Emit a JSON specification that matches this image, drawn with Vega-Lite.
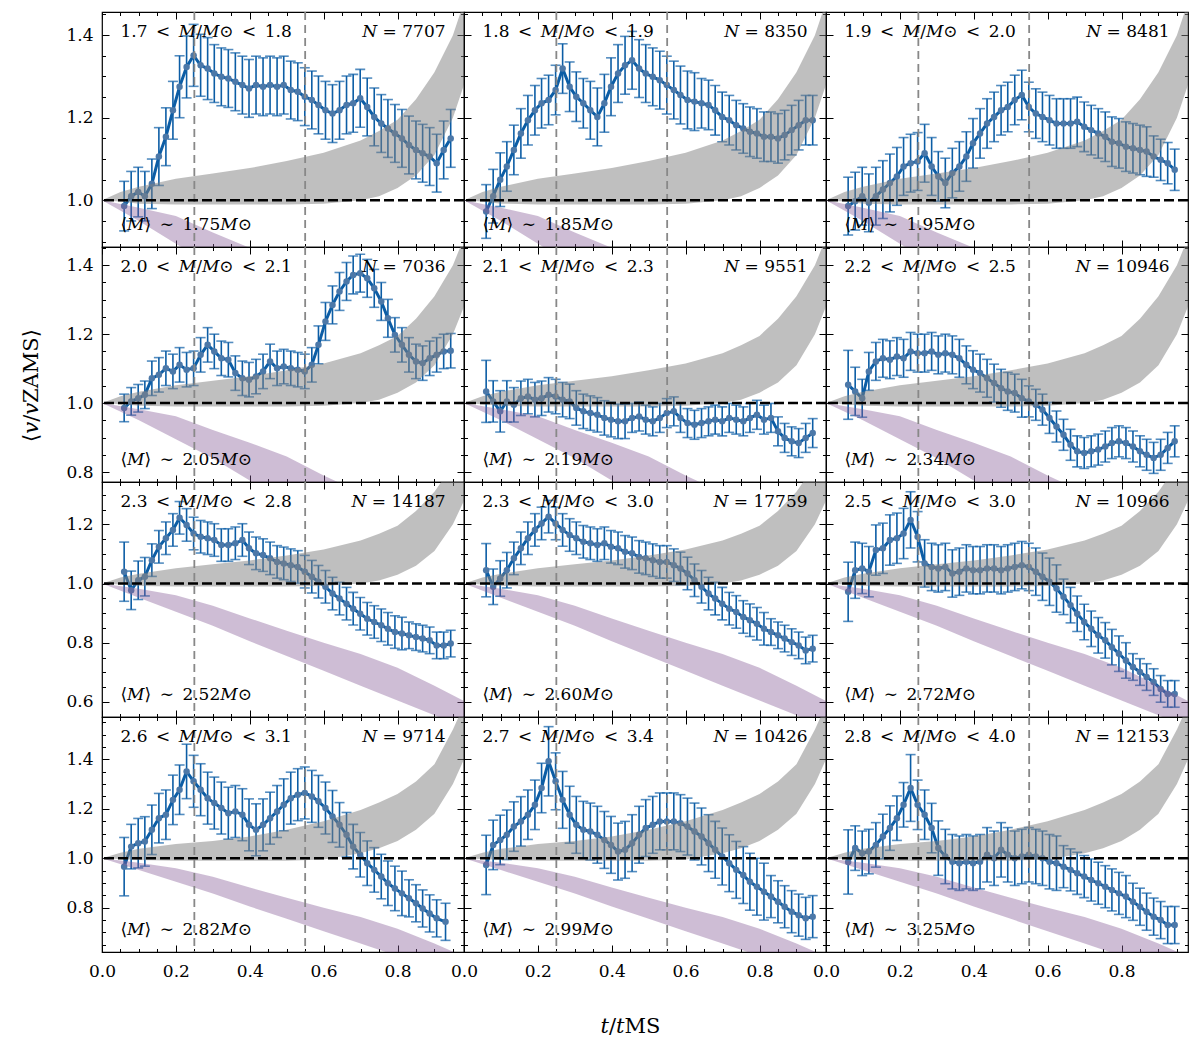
{
"$schema": "https://vega.github.io/schema/vega-lite/v6.json",
"background": "white",
"padding": {"left": 20, "top": 10, "right": 5, "bottom": 5},
"columns": 3,
"spacing": 0,
"bounds": "flush",
"datasets": {
"obs": [
{"p":1,"t":0.06,"v":0.986,"e":0.06},{"p":1,"t":0.079,"v":1.01,"e":0.06},{"p":1,"t":0.098,"v":1.02,"e":0.06},{"p":1,"t":0.116,"v":1.01,"e":0.06},{"p":1,"t":0.135,"v":1.04,"e":0.06},{"p":1,"t":0.154,"v":1.106,"e":0.07},{"p":1,"t":0.173,"v":1.154,"e":0.07},{"p":1,"t":0.192,"v":1.218,"e":0.07},{"p":1,"t":0.21,"v":1.275,"e":0.075},{"p":1,"t":0.229,"v":1.323,"e":0.075},{"p":1,"t":0.248,"v":1.351,"e":0.075},{"p":1,"t":0.267,"v":1.327,"e":0.075},{"p":1,"t":0.286,"v":1.319,"e":0.075},{"p":1,"t":0.304,"v":1.307,"e":0.07},{"p":1,"t":0.323,"v":1.299,"e":0.07},{"p":1,"t":0.342,"v":1.295,"e":0.07},{"p":1,"t":0.361,"v":1.287,"e":0.07},{"p":1,"t":0.38,"v":1.279,"e":0.07},{"p":1,"t":0.398,"v":1.271,"e":0.07},{"p":1,"t":0.417,"v":1.279,"e":0.07},{"p":1,"t":0.436,"v":1.275,"e":0.07},{"p":1,"t":0.455,"v":1.279,"e":0.07},{"p":1,"t":0.474,"v":1.275,"e":0.07},{"p":1,"t":0.492,"v":1.279,"e":0.07},{"p":1,"t":0.511,"v":1.267,"e":0.07},{"p":1,"t":0.53,"v":1.263,"e":0.07},{"p":1,"t":0.549,"v":1.251,"e":0.07},{"p":1,"t":0.568,"v":1.243,"e":0.07},{"p":1,"t":0.586,"v":1.231,"e":0.07},{"p":1,"t":0.605,"v":1.218,"e":0.07},{"p":1,"t":0.624,"v":1.21,"e":0.07},{"p":1,"t":0.643,"v":1.218,"e":0.07},{"p":1,"t":0.662,"v":1.231,"e":0.07},{"p":1,"t":0.68,"v":1.235,"e":0.07},{"p":1,"t":0.699,"v":1.247,"e":0.07},{"p":1,"t":0.718,"v":1.226,"e":0.07},{"p":1,"t":0.737,"v":1.202,"e":0.07},{"p":1,"t":0.756,"v":1.186,"e":0.07},{"p":1,"t":0.774,"v":1.174,"e":0.07},{"p":1,"t":0.793,"v":1.162,"e":0.07},{"p":1,"t":0.812,"v":1.15,"e":0.07},{"p":1,"t":0.831,"v":1.134,"e":0.07},{"p":1,"t":0.85,"v":1.122,"e":0.07},{"p":1,"t":0.868,"v":1.114,"e":0.07},{"p":1,"t":0.887,"v":1.106,"e":0.07},{"p":1,"t":0.906,"v":1.09,"e":0.07},{"p":1,"t":0.925,"v":1.122,"e":0.07},{"p":1,"t":0.944,"v":1.15,"e":0.07},
{"p":2,"t":0.06,"v":0.973,"e":0.065},{"p":2,"t":0.079,"v":1.01,"e":0.065},{"p":2,"t":0.098,"v":1.05,"e":0.065},{"p":2,"t":0.116,"v":1.082,"e":0.06},{"p":2,"t":0.135,"v":1.122,"e":0.06},{"p":2,"t":0.154,"v":1.162,"e":0.06},{"p":2,"t":0.173,"v":1.194,"e":0.06},{"p":2,"t":0.192,"v":1.218,"e":0.06},{"p":2,"t":0.21,"v":1.235,"e":0.06},{"p":2,"t":0.229,"v":1.243,"e":0.06},{"p":2,"t":0.248,"v":1.267,"e":0.06},{"p":2,"t":0.267,"v":1.319,"e":0.06},{"p":2,"t":0.286,"v":1.275,"e":0.06},{"p":2,"t":0.304,"v":1.251,"e":0.06},{"p":2,"t":0.323,"v":1.235,"e":0.06},{"p":2,"t":0.342,"v":1.218,"e":0.07},{"p":2,"t":0.361,"v":1.202,"e":0.07},{"p":2,"t":0.38,"v":1.235,"e":0.07},{"p":2,"t":0.398,"v":1.275,"e":0.07},{"p":2,"t":0.417,"v":1.307,"e":0.07},{"p":2,"t":0.436,"v":1.327,"e":0.07},{"p":2,"t":0.455,"v":1.339,"e":0.07},{"p":2,"t":0.474,"v":1.319,"e":0.07},{"p":2,"t":0.492,"v":1.307,"e":0.07},{"p":2,"t":0.511,"v":1.299,"e":0.07},{"p":2,"t":0.53,"v":1.291,"e":0.07},{"p":2,"t":0.549,"v":1.279,"e":0.07},{"p":2,"t":0.568,"v":1.267,"e":0.07},{"p":2,"t":0.586,"v":1.255,"e":0.07},{"p":2,"t":0.605,"v":1.243,"e":0.07},{"p":2,"t":0.624,"v":1.239,"e":0.07},{"p":2,"t":0.643,"v":1.235,"e":0.06},{"p":2,"t":0.662,"v":1.231,"e":0.06},{"p":2,"t":0.68,"v":1.218,"e":0.06},{"p":2,"t":0.699,"v":1.202,"e":0.06},{"p":2,"t":0.718,"v":1.194,"e":0.06},{"p":2,"t":0.737,"v":1.182,"e":0.06},{"p":2,"t":0.756,"v":1.174,"e":0.06},{"p":2,"t":0.774,"v":1.166,"e":0.06},{"p":2,"t":0.793,"v":1.162,"e":0.06},{"p":2,"t":0.812,"v":1.154,"e":0.06},{"p":2,"t":0.831,"v":1.154,"e":0.06},{"p":2,"t":0.85,"v":1.15,"e":0.06},{"p":2,"t":0.868,"v":1.158,"e":0.06},{"p":2,"t":0.887,"v":1.17,"e":0.06},{"p":2,"t":0.906,"v":1.182,"e":0.06},{"p":2,"t":0.925,"v":1.194,"e":0.06},{"p":2,"t":0.944,"v":1.194,"e":0.06},
{"p":3,"t":0.06,"v":0.986,"e":0.07},{"p":3,"t":0.079,"v":0.998,"e":0.07},{"p":3,"t":0.098,"v":1.01,"e":0.07},{"p":3,"t":0.116,"v":0.994,"e":0.07},{"p":3,"t":0.135,"v":1.01,"e":0.07},{"p":3,"t":0.154,"v":1.026,"e":0.07},{"p":3,"t":0.173,"v":1.042,"e":0.07},{"p":3,"t":0.192,"v":1.058,"e":0.07},{"p":3,"t":0.21,"v":1.082,"e":0.07},{"p":3,"t":0.229,"v":1.09,"e":0.07},{"p":3,"t":0.248,"v":1.094,"e":0.07},{"p":3,"t":0.267,"v":1.114,"e":0.07},{"p":3,"t":0.286,"v":1.082,"e":0.07},{"p":3,"t":0.304,"v":1.058,"e":0.06},{"p":3,"t":0.323,"v":1.042,"e":0.06},{"p":3,"t":0.342,"v":1.066,"e":0.06},{"p":3,"t":0.361,"v":1.082,"e":0.06},{"p":3,"t":0.38,"v":1.106,"e":0.06},{"p":3,"t":0.398,"v":1.138,"e":0.06},{"p":3,"t":0.417,"v":1.162,"e":0.06},{"p":3,"t":0.436,"v":1.186,"e":0.06},{"p":3,"t":0.455,"v":1.202,"e":0.06},{"p":3,"t":0.474,"v":1.218,"e":0.06},{"p":3,"t":0.492,"v":1.226,"e":0.06},{"p":3,"t":0.511,"v":1.243,"e":0.06},{"p":3,"t":0.53,"v":1.255,"e":0.06},{"p":3,"t":0.549,"v":1.226,"e":0.06},{"p":3,"t":0.568,"v":1.21,"e":0.06},{"p":3,"t":0.586,"v":1.202,"e":0.06},{"p":3,"t":0.605,"v":1.194,"e":0.06},{"p":3,"t":0.624,"v":1.186,"e":0.06},{"p":3,"t":0.643,"v":1.186,"e":0.06},{"p":3,"t":0.662,"v":1.186,"e":0.06},{"p":3,"t":0.68,"v":1.19,"e":0.06},{"p":3,"t":0.699,"v":1.178,"e":0.06},{"p":3,"t":0.718,"v":1.17,"e":0.06},{"p":3,"t":0.737,"v":1.162,"e":0.06},{"p":3,"t":0.756,"v":1.154,"e":0.06},{"p":3,"t":0.774,"v":1.142,"e":0.06},{"p":3,"t":0.793,"v":1.138,"e":0.06},{"p":3,"t":0.812,"v":1.13,"e":0.06},{"p":3,"t":0.831,"v":1.126,"e":0.06},{"p":3,"t":0.85,"v":1.122,"e":0.06},{"p":3,"t":0.868,"v":1.118,"e":0.06},{"p":3,"t":0.887,"v":1.106,"e":0.05},{"p":3,"t":0.906,"v":1.098,"e":0.05},{"p":3,"t":0.925,"v":1.09,"e":0.05},{"p":3,"t":0.944,"v":1.074,"e":0.05},
{"p":4,"t":0.06,"v":0.986,"e":0.04},{"p":4,"t":0.079,"v":1.005,"e":0.04},{"p":4,"t":0.098,"v":1.014,"e":0.04},{"p":4,"t":0.116,"v":1.024,"e":0.04},{"p":4,"t":0.135,"v":1.072,"e":0.05},{"p":4,"t":0.154,"v":1.082,"e":0.05},{"p":4,"t":0.173,"v":1.101,"e":0.05},{"p":4,"t":0.192,"v":1.092,"e":0.05},{"p":4,"t":0.21,"v":1.111,"e":0.05},{"p":4,"t":0.229,"v":1.097,"e":0.05},{"p":4,"t":0.248,"v":1.101,"e":0.05},{"p":4,"t":0.267,"v":1.14,"e":0.05},{"p":4,"t":0.286,"v":1.169,"e":0.05},{"p":4,"t":0.304,"v":1.15,"e":0.05},{"p":4,"t":0.323,"v":1.13,"e":0.05},{"p":4,"t":0.342,"v":1.126,"e":0.05},{"p":4,"t":0.361,"v":1.087,"e":0.05},{"p":4,"t":0.38,"v":1.072,"e":0.05},{"p":4,"t":0.398,"v":1.068,"e":0.05},{"p":4,"t":0.417,"v":1.077,"e":0.05},{"p":4,"t":0.436,"v":1.092,"e":0.05},{"p":4,"t":0.455,"v":1.121,"e":0.05},{"p":4,"t":0.474,"v":1.101,"e":0.05},{"p":4,"t":0.492,"v":1.106,"e":0.05},{"p":4,"t":0.511,"v":1.101,"e":0.05},{"p":4,"t":0.53,"v":1.097,"e":0.05},{"p":4,"t":0.549,"v":1.092,"e":0.05},{"p":4,"t":0.568,"v":1.111,"e":0.05},{"p":4,"t":0.586,"v":1.169,"e":0.055},{"p":4,"t":0.605,"v":1.237,"e":0.055},{"p":4,"t":0.624,"v":1.285,"e":0.055},{"p":4,"t":0.643,"v":1.324,"e":0.055},{"p":4,"t":0.662,"v":1.353,"e":0.055},{"p":4,"t":0.68,"v":1.372,"e":0.055},{"p":4,"t":0.699,"v":1.377,"e":0.055},{"p":4,"t":0.718,"v":1.362,"e":0.055},{"p":4,"t":0.737,"v":1.333,"e":0.055},{"p":4,"t":0.756,"v":1.295,"e":0.055},{"p":4,"t":0.774,"v":1.246,"e":0.055},{"p":4,"t":0.793,"v":1.198,"e":0.05},{"p":4,"t":0.812,"v":1.169,"e":0.05},{"p":4,"t":0.831,"v":1.14,"e":0.05},{"p":4,"t":0.85,"v":1.121,"e":0.05},{"p":4,"t":0.868,"v":1.116,"e":0.05},{"p":4,"t":0.887,"v":1.13,"e":0.05},{"p":4,"t":0.906,"v":1.14,"e":0.05},{"p":4,"t":0.925,"v":1.15,"e":0.05},{"p":4,"t":0.944,"v":1.152,"e":0.05},
{"p":5,"t":0.06,"v":1.034,"e":0.09},{"p":5,"t":0.079,"v":1.005,"e":0.06},{"p":5,"t":0.098,"v":0.976,"e":0.06},{"p":5,"t":0.116,"v":1.005,"e":0.06},{"p":5,"t":0.135,"v":0.995,"e":0.05},{"p":5,"t":0.154,"v":1.014,"e":0.05},{"p":5,"t":0.173,"v":1.019,"e":0.05},{"p":5,"t":0.192,"v":1.01,"e":0.05},{"p":5,"t":0.21,"v":1.014,"e":0.05},{"p":5,"t":0.229,"v":1.024,"e":0.05},{"p":5,"t":0.248,"v":1.019,"e":0.05},{"p":5,"t":0.267,"v":1.01,"e":0.05},{"p":5,"t":0.286,"v":1.005,"e":0.05},{"p":5,"t":0.304,"v":0.986,"e":0.05},{"p":5,"t":0.323,"v":0.976,"e":0.05},{"p":5,"t":0.342,"v":0.971,"e":0.05},{"p":5,"t":0.361,"v":0.966,"e":0.05},{"p":5,"t":0.38,"v":0.957,"e":0.05},{"p":5,"t":0.398,"v":0.952,"e":0.05},{"p":5,"t":0.417,"v":0.947,"e":0.05},{"p":5,"t":0.436,"v":0.947,"e":0.05},{"p":5,"t":0.455,"v":0.957,"e":0.042},{"p":5,"t":0.474,"v":0.961,"e":0.042},{"p":5,"t":0.492,"v":0.952,"e":0.042},{"p":5,"t":0.511,"v":0.947,"e":0.042},{"p":5,"t":0.53,"v":0.957,"e":0.042},{"p":5,"t":0.549,"v":0.971,"e":0.042},{"p":5,"t":0.568,"v":0.976,"e":0.042},{"p":5,"t":0.586,"v":0.957,"e":0.042},{"p":5,"t":0.605,"v":0.942,"e":0.042},{"p":5,"t":0.624,"v":0.937,"e":0.042},{"p":5,"t":0.643,"v":0.942,"e":0.042},{"p":5,"t":0.662,"v":0.947,"e":0.042},{"p":5,"t":0.68,"v":0.952,"e":0.042},{"p":5,"t":0.699,"v":0.947,"e":0.042},{"p":5,"t":0.718,"v":0.957,"e":0.042},{"p":5,"t":0.737,"v":0.952,"e":0.042},{"p":5,"t":0.756,"v":0.947,"e":0.042},{"p":5,"t":0.774,"v":0.957,"e":0.042},{"p":5,"t":0.793,"v":0.966,"e":0.042},{"p":5,"t":0.812,"v":0.952,"e":0.042},{"p":5,"t":0.831,"v":0.957,"e":0.042},{"p":5,"t":0.85,"v":0.918,"e":0.042},{"p":5,"t":0.868,"v":0.899,"e":0.042},{"p":5,"t":0.887,"v":0.889,"e":0.042},{"p":5,"t":0.906,"v":0.884,"e":0.042},{"p":5,"t":0.925,"v":0.899,"e":0.042},{"p":5,"t":0.944,"v":0.913,"e":0.042},
{"p":6,"t":0.06,"v":1.053,"e":0.1},{"p":6,"t":0.079,"v":1.034,"e":0.07},{"p":6,"t":0.098,"v":1.014,"e":0.055},{"p":6,"t":0.116,"v":1.092,"e":0.055},{"p":6,"t":0.135,"v":1.121,"e":0.055},{"p":6,"t":0.154,"v":1.13,"e":0.055},{"p":6,"t":0.173,"v":1.126,"e":0.055},{"p":6,"t":0.192,"v":1.135,"e":0.055},{"p":6,"t":0.21,"v":1.13,"e":0.055},{"p":6,"t":0.229,"v":1.15,"e":0.055},{"p":6,"t":0.248,"v":1.145,"e":0.055},{"p":6,"t":0.267,"v":1.145,"e":0.055},{"p":6,"t":0.286,"v":1.15,"e":0.055},{"p":6,"t":0.304,"v":1.14,"e":0.055},{"p":6,"t":0.323,"v":1.145,"e":0.055},{"p":6,"t":0.342,"v":1.14,"e":0.055},{"p":6,"t":0.361,"v":1.13,"e":0.055},{"p":6,"t":0.38,"v":1.111,"e":0.055},{"p":6,"t":0.398,"v":1.097,"e":0.055},{"p":6,"t":0.417,"v":1.087,"e":0.055},{"p":6,"t":0.436,"v":1.072,"e":0.055},{"p":6,"t":0.455,"v":1.058,"e":0.055},{"p":6,"t":0.474,"v":1.043,"e":0.055},{"p":6,"t":0.492,"v":1.034,"e":0.055},{"p":6,"t":0.511,"v":1.029,"e":0.055},{"p":6,"t":0.53,"v":1.014,"e":0.055},{"p":6,"t":0.549,"v":1.005,"e":0.045},{"p":6,"t":0.568,"v":0.995,"e":0.045},{"p":6,"t":0.586,"v":0.981,"e":0.045},{"p":6,"t":0.605,"v":0.957,"e":0.045},{"p":6,"t":0.624,"v":0.932,"e":0.045},{"p":6,"t":0.643,"v":0.908,"e":0.045},{"p":6,"t":0.662,"v":0.879,"e":0.045},{"p":6,"t":0.68,"v":0.86,"e":0.045},{"p":6,"t":0.699,"v":0.855,"e":0.045},{"p":6,"t":0.718,"v":0.86,"e":0.045},{"p":6,"t":0.737,"v":0.865,"e":0.045},{"p":6,"t":0.756,"v":0.874,"e":0.045},{"p":6,"t":0.774,"v":0.884,"e":0.045},{"p":6,"t":0.793,"v":0.889,"e":0.045},{"p":6,"t":0.812,"v":0.884,"e":0.045},{"p":6,"t":0.831,"v":0.874,"e":0.045},{"p":6,"t":0.85,"v":0.86,"e":0.045},{"p":6,"t":0.868,"v":0.85,"e":0.045},{"p":6,"t":0.887,"v":0.841,"e":0.045},{"p":6,"t":0.906,"v":0.85,"e":0.045},{"p":6,"t":0.925,"v":0.87,"e":0.045},{"p":6,"t":0.944,"v":0.889,"e":0.045},
{"p":7,"t":0.06,"v":1.04,"e":0.1},{"p":7,"t":0.079,"v":0.977,"e":0.065},{"p":7,"t":0.098,"v":1.011,"e":0.065},{"p":7,"t":0.116,"v":1.023,"e":0.065},{"p":7,"t":0.135,"v":1.079,"e":0.055},{"p":7,"t":0.154,"v":1.124,"e":0.055},{"p":7,"t":0.173,"v":1.153,"e":0.055},{"p":7,"t":0.192,"v":1.181,"e":0.055},{"p":7,"t":0.21,"v":1.222,"e":0.055},{"p":7,"t":0.229,"v":1.198,"e":0.055},{"p":7,"t":0.248,"v":1.169,"e":0.055},{"p":7,"t":0.267,"v":1.158,"e":0.055},{"p":7,"t":0.286,"v":1.153,"e":0.055},{"p":7,"t":0.304,"v":1.147,"e":0.055},{"p":7,"t":0.323,"v":1.13,"e":0.055},{"p":7,"t":0.342,"v":1.13,"e":0.055},{"p":7,"t":0.361,"v":1.136,"e":0.055},{"p":7,"t":0.38,"v":1.147,"e":0.055},{"p":7,"t":0.398,"v":1.119,"e":0.055},{"p":7,"t":0.417,"v":1.102,"e":0.055},{"p":7,"t":0.436,"v":1.096,"e":0.055},{"p":7,"t":0.455,"v":1.085,"e":0.055},{"p":7,"t":0.474,"v":1.073,"e":0.055},{"p":7,"t":0.492,"v":1.068,"e":0.055},{"p":7,"t":0.511,"v":1.062,"e":0.055},{"p":7,"t":0.53,"v":1.056,"e":0.055},{"p":7,"t":0.549,"v":1.04,"e":0.055},{"p":7,"t":0.568,"v":1.023,"e":0.055},{"p":7,"t":0.586,"v":1.006,"e":0.055},{"p":7,"t":0.605,"v":0.989,"e":0.055},{"p":7,"t":0.624,"v":0.966,"e":0.055},{"p":7,"t":0.643,"v":0.949,"e":0.055},{"p":7,"t":0.662,"v":0.932,"e":0.055},{"p":7,"t":0.68,"v":0.915,"e":0.055},{"p":7,"t":0.699,"v":0.898,"e":0.055},{"p":7,"t":0.718,"v":0.881,"e":0.055},{"p":7,"t":0.737,"v":0.87,"e":0.055},{"p":7,"t":0.756,"v":0.859,"e":0.055},{"p":7,"t":0.774,"v":0.847,"e":0.055},{"p":7,"t":0.793,"v":0.836,"e":0.055},{"p":7,"t":0.812,"v":0.831,"e":0.055},{"p":7,"t":0.831,"v":0.825,"e":0.045},{"p":7,"t":0.85,"v":0.819,"e":0.045},{"p":7,"t":0.868,"v":0.814,"e":0.045},{"p":7,"t":0.887,"v":0.808,"e":0.045},{"p":7,"t":0.906,"v":0.791,"e":0.045},{"p":7,"t":0.925,"v":0.791,"e":0.045},{"p":7,"t":0.944,"v":0.797,"e":0.045},
{"p":8,"t":0.06,"v":1.045,"e":0.09},{"p":8,"t":0.079,"v":0.989,"e":0.06},{"p":8,"t":0.098,"v":1.017,"e":0.06},{"p":8,"t":0.116,"v":1.045,"e":0.06},{"p":8,"t":0.135,"v":1.085,"e":0.055},{"p":8,"t":0.154,"v":1.119,"e":0.055},{"p":8,"t":0.173,"v":1.153,"e":0.055},{"p":8,"t":0.192,"v":1.181,"e":0.055},{"p":8,"t":0.21,"v":1.203,"e":0.055},{"p":8,"t":0.229,"v":1.226,"e":0.055},{"p":8,"t":0.248,"v":1.203,"e":0.055},{"p":8,"t":0.267,"v":1.181,"e":0.055},{"p":8,"t":0.286,"v":1.164,"e":0.055},{"p":8,"t":0.304,"v":1.153,"e":0.055},{"p":8,"t":0.323,"v":1.141,"e":0.055},{"p":8,"t":0.342,"v":1.136,"e":0.055},{"p":8,"t":0.361,"v":1.13,"e":0.055},{"p":8,"t":0.38,"v":1.136,"e":0.055},{"p":8,"t":0.398,"v":1.124,"e":0.055},{"p":8,"t":0.417,"v":1.119,"e":0.055},{"p":8,"t":0.436,"v":1.107,"e":0.055},{"p":8,"t":0.455,"v":1.102,"e":0.055},{"p":8,"t":0.474,"v":1.09,"e":0.055},{"p":8,"t":0.492,"v":1.085,"e":0.055},{"p":8,"t":0.511,"v":1.079,"e":0.055},{"p":8,"t":0.53,"v":1.073,"e":0.055},{"p":8,"t":0.549,"v":1.073,"e":0.055},{"p":8,"t":0.568,"v":1.062,"e":0.055},{"p":8,"t":0.586,"v":1.051,"e":0.055},{"p":8,"t":0.605,"v":1.034,"e":0.055},{"p":8,"t":0.624,"v":1.011,"e":0.055},{"p":8,"t":0.643,"v":0.989,"e":0.055},{"p":8,"t":0.662,"v":0.966,"e":0.055},{"p":8,"t":0.68,"v":0.949,"e":0.055},{"p":8,"t":0.699,"v":0.932,"e":0.055},{"p":8,"t":0.718,"v":0.915,"e":0.055},{"p":8,"t":0.737,"v":0.904,"e":0.055},{"p":8,"t":0.756,"v":0.887,"e":0.055},{"p":8,"t":0.774,"v":0.876,"e":0.055},{"p":8,"t":0.793,"v":0.864,"e":0.055},{"p":8,"t":0.812,"v":0.847,"e":0.055},{"p":8,"t":0.831,"v":0.836,"e":0.045},{"p":8,"t":0.85,"v":0.825,"e":0.045},{"p":8,"t":0.868,"v":0.814,"e":0.045},{"p":8,"t":0.887,"v":0.802,"e":0.045},{"p":8,"t":0.906,"v":0.791,"e":0.045},{"p":8,"t":0.925,"v":0.774,"e":0.045},{"p":8,"t":0.944,"v":0.78,"e":0.045},
{"p":9,"t":0.06,"v":0.972,"e":0.1},{"p":9,"t":0.079,"v":1.045,"e":0.095},{"p":9,"t":0.098,"v":1.051,"e":0.085},{"p":9,"t":0.116,"v":1.04,"e":0.085},{"p":9,"t":0.135,"v":1.113,"e":0.085},{"p":9,"t":0.154,"v":1.119,"e":0.085},{"p":9,"t":0.173,"v":1.147,"e":0.085},{"p":9,"t":0.192,"v":1.153,"e":0.085},{"p":9,"t":0.21,"v":1.169,"e":0.085},{"p":9,"t":0.229,"v":1.215,"e":0.095},{"p":9,"t":0.248,"v":1.158,"e":0.085},{"p":9,"t":0.267,"v":1.068,"e":0.08},{"p":9,"t":0.286,"v":1.056,"e":0.08},{"p":9,"t":0.304,"v":1.051,"e":0.08},{"p":9,"t":0.323,"v":1.056,"e":0.08},{"p":9,"t":0.342,"v":1.034,"e":0.08},{"p":9,"t":0.361,"v":1.04,"e":0.08},{"p":9,"t":0.38,"v":1.051,"e":0.08},{"p":9,"t":0.398,"v":1.045,"e":0.08},{"p":9,"t":0.417,"v":1.045,"e":0.08},{"p":9,"t":0.436,"v":1.051,"e":0.08},{"p":9,"t":0.455,"v":1.051,"e":0.08},{"p":9,"t":0.474,"v":1.045,"e":0.08},{"p":9,"t":0.492,"v":1.051,"e":0.08},{"p":9,"t":0.511,"v":1.056,"e":0.08},{"p":9,"t":0.53,"v":1.062,"e":0.08},{"p":9,"t":0.549,"v":1.056,"e":0.08},{"p":9,"t":0.568,"v":1.04,"e":0.08},{"p":9,"t":0.586,"v":1.023,"e":0.08},{"p":9,"t":0.605,"v":1.006,"e":0.08},{"p":9,"t":0.624,"v":0.983,"e":0.08},{"p":9,"t":0.643,"v":0.955,"e":0.06},{"p":9,"t":0.662,"v":0.927,"e":0.06},{"p":9,"t":0.68,"v":0.898,"e":0.06},{"p":9,"t":0.699,"v":0.87,"e":0.06},{"p":9,"t":0.718,"v":0.847,"e":0.06},{"p":9,"t":0.737,"v":0.825,"e":0.06},{"p":9,"t":0.756,"v":0.808,"e":0.06},{"p":9,"t":0.774,"v":0.785,"e":0.06},{"p":9,"t":0.793,"v":0.763,"e":0.06},{"p":9,"t":0.812,"v":0.74,"e":0.06},{"p":9,"t":0.831,"v":0.718,"e":0.045},{"p":9,"t":0.85,"v":0.701,"e":0.045},{"p":9,"t":0.868,"v":0.684,"e":0.045},{"p":9,"t":0.887,"v":0.667,"e":0.045},{"p":9,"t":0.906,"v":0.644,"e":0.045},{"p":9,"t":0.925,"v":0.627,"e":0.045},{"p":9,"t":0.944,"v":0.627,"e":0.045},
{"p":10,"t":0.06,"v":0.966,"e":0.118},{"p":10,"t":0.079,"v":1.047,"e":0.09},{"p":10,"t":0.098,"v":1.061,"e":0.1},{"p":10,"t":0.116,"v":1.068,"e":0.1},{"p":10,"t":0.135,"v":1.115,"e":0.1},{"p":10,"t":0.154,"v":1.162,"e":0.1},{"p":10,"t":0.173,"v":1.176,"e":0.1},{"p":10,"t":0.192,"v":1.236,"e":0.1},{"p":10,"t":0.21,"v":1.277,"e":0.1},{"p":10,"t":0.229,"v":1.351,"e":0.11},{"p":10,"t":0.248,"v":1.311,"e":0.105},{"p":10,"t":0.267,"v":1.277,"e":0.105},{"p":10,"t":0.286,"v":1.243,"e":0.105},{"p":10,"t":0.304,"v":1.223,"e":0.105},{"p":10,"t":0.323,"v":1.203,"e":0.105},{"p":10,"t":0.342,"v":1.182,"e":0.105},{"p":10,"t":0.361,"v":1.189,"e":0.105},{"p":10,"t":0.38,"v":1.176,"e":0.105},{"p":10,"t":0.398,"v":1.135,"e":0.105},{"p":10,"t":0.417,"v":1.115,"e":0.105},{"p":10,"t":0.436,"v":1.135,"e":0.105},{"p":10,"t":0.455,"v":1.162,"e":0.105},{"p":10,"t":0.474,"v":1.189,"e":0.105},{"p":10,"t":0.492,"v":1.216,"e":0.105},{"p":10,"t":0.511,"v":1.243,"e":0.105},{"p":10,"t":0.53,"v":1.257,"e":0.105},{"p":10,"t":0.549,"v":1.264,"e":0.105},{"p":10,"t":0.568,"v":1.25,"e":0.105},{"p":10,"t":0.586,"v":1.23,"e":0.105},{"p":10,"t":0.605,"v":1.203,"e":0.105},{"p":10,"t":0.624,"v":1.169,"e":0.105},{"p":10,"t":0.643,"v":1.135,"e":0.09},{"p":10,"t":0.662,"v":1.095,"e":0.09},{"p":10,"t":0.68,"v":1.047,"e":0.09},{"p":10,"t":0.699,"v":1.014,"e":0.09},{"p":10,"t":0.718,"v":0.98,"e":0.09},{"p":10,"t":0.737,"v":0.953,"e":0.09},{"p":10,"t":0.756,"v":0.926,"e":0.09},{"p":10,"t":0.774,"v":0.899,"e":0.09},{"p":10,"t":0.793,"v":0.878,"e":0.09},{"p":10,"t":0.812,"v":0.858,"e":0.09},{"p":10,"t":0.831,"v":0.838,"e":0.075},{"p":10,"t":0.85,"v":0.818,"e":0.075},{"p":10,"t":0.868,"v":0.797,"e":0.075},{"p":10,"t":0.887,"v":0.777,"e":0.075},{"p":10,"t":0.906,"v":0.757,"e":0.075},{"p":10,"t":0.93,"v":0.743,"e":0.075},
{"p":11,"t":0.06,"v":0.973,"e":0.12},{"p":11,"t":0.079,"v":1.054,"e":0.1},{"p":11,"t":0.098,"v":1.074,"e":0.1},{"p":11,"t":0.116,"v":1.095,"e":0.1},{"p":11,"t":0.135,"v":1.128,"e":0.1},{"p":11,"t":0.154,"v":1.149,"e":0.1},{"p":11,"t":0.173,"v":1.176,"e":0.1},{"p":11,"t":0.192,"v":1.216,"e":0.1},{"p":11,"t":0.21,"v":1.284,"e":0.1},{"p":11,"t":0.229,"v":1.392,"e":0.14},{"p":11,"t":0.248,"v":1.311,"e":0.115},{"p":11,"t":0.267,"v":1.236,"e":0.115},{"p":11,"t":0.286,"v":1.176,"e":0.115},{"p":11,"t":0.304,"v":1.135,"e":0.115},{"p":11,"t":0.323,"v":1.115,"e":0.115},{"p":11,"t":0.342,"v":1.108,"e":0.115},{"p":11,"t":0.361,"v":1.095,"e":0.115},{"p":11,"t":0.38,"v":1.074,"e":0.115},{"p":11,"t":0.398,"v":1.054,"e":0.115},{"p":11,"t":0.417,"v":1.027,"e":0.115},{"p":11,"t":0.436,"v":1.034,"e":0.115},{"p":11,"t":0.455,"v":1.061,"e":0.115},{"p":11,"t":0.474,"v":1.095,"e":0.115},{"p":11,"t":0.492,"v":1.122,"e":0.115},{"p":11,"t":0.511,"v":1.135,"e":0.115},{"p":11,"t":0.53,"v":1.149,"e":0.115},{"p":11,"t":0.549,"v":1.149,"e":0.115},{"p":11,"t":0.568,"v":1.149,"e":0.115},{"p":11,"t":0.586,"v":1.142,"e":0.115},{"p":11,"t":0.605,"v":1.128,"e":0.115},{"p":11,"t":0.624,"v":1.108,"e":0.115},{"p":11,"t":0.643,"v":1.088,"e":0.115},{"p":11,"t":0.662,"v":1.061,"e":0.115},{"p":11,"t":0.68,"v":1.034,"e":0.115},{"p":11,"t":0.699,"v":1.007,"e":0.115},{"p":11,"t":0.718,"v":0.98,"e":0.115},{"p":11,"t":0.737,"v":0.953,"e":0.115},{"p":11,"t":0.756,"v":0.932,"e":0.115},{"p":11,"t":0.774,"v":0.905,"e":0.115},{"p":11,"t":0.793,"v":0.885,"e":0.115},{"p":11,"t":0.812,"v":0.865,"e":0.115},{"p":11,"t":0.831,"v":0.845,"e":0.085},{"p":11,"t":0.85,"v":0.824,"e":0.085},{"p":11,"t":0.868,"v":0.804,"e":0.085},{"p":11,"t":0.887,"v":0.784,"e":0.085},{"p":11,"t":0.906,"v":0.77,"e":0.085},{"p":11,"t":0.925,"v":0.757,"e":0.085},{"p":11,"t":0.944,"v":0.764,"e":0.085},
{"p":12,"t":0.06,"v":0.985,"e":0.13},{"p":12,"t":0.079,"v":1.041,"e":0.09},{"p":12,"t":0.098,"v":1.02,"e":0.09},{"p":12,"t":0.116,"v":1.027,"e":0.09},{"p":12,"t":0.135,"v":1.054,"e":0.09},{"p":12,"t":0.154,"v":1.088,"e":0.09},{"p":12,"t":0.173,"v":1.122,"e":0.09},{"p":12,"t":0.192,"v":1.162,"e":0.09},{"p":12,"t":0.21,"v":1.216,"e":0.09},{"p":12,"t":0.229,"v":1.284,"e":0.135},{"p":12,"t":0.248,"v":1.216,"e":0.1},{"p":12,"t":0.267,"v":1.176,"e":0.1},{"p":12,"t":0.286,"v":1.122,"e":0.1},{"p":12,"t":0.304,"v":1.041,"e":0.11},{"p":12,"t":0.323,"v":1.007,"e":0.11},{"p":12,"t":0.342,"v":0.986,"e":0.11},{"p":12,"t":0.361,"v":0.98,"e":0.11},{"p":12,"t":0.38,"v":0.986,"e":0.11},{"p":12,"t":0.398,"v":0.98,"e":0.11},{"p":12,"t":0.417,"v":0.986,"e":0.11},{"p":12,"t":0.436,"v":1.014,"e":0.11},{"p":12,"t":0.455,"v":1.0,"e":0.11},{"p":12,"t":0.474,"v":1.034,"e":0.11},{"p":12,"t":0.492,"v":1.014,"e":0.11},{"p":12,"t":0.511,"v":1.0,"e":0.11},{"p":12,"t":0.53,"v":1.007,"e":0.11},{"p":12,"t":0.549,"v":1.014,"e":0.11},{"p":12,"t":0.568,"v":1.007,"e":0.11},{"p":12,"t":0.586,"v":1.0,"e":0.11},{"p":12,"t":0.605,"v":0.986,"e":0.11},{"p":12,"t":0.624,"v":0.98,"e":0.11},{"p":12,"t":0.643,"v":0.966,"e":0.085},{"p":12,"t":0.662,"v":0.953,"e":0.085},{"p":12,"t":0.68,"v":0.939,"e":0.085},{"p":12,"t":0.699,"v":0.926,"e":0.085},{"p":12,"t":0.718,"v":0.912,"e":0.085},{"p":12,"t":0.737,"v":0.899,"e":0.085},{"p":12,"t":0.756,"v":0.885,"e":0.085},{"p":12,"t":0.774,"v":0.872,"e":0.085},{"p":12,"t":0.793,"v":0.858,"e":0.085},{"p":12,"t":0.812,"v":0.845,"e":0.085},{"p":12,"t":0.831,"v":0.824,"e":0.075},{"p":12,"t":0.85,"v":0.804,"e":0.075},{"p":12,"t":0.868,"v":0.784,"e":0.075},{"p":12,"t":0.887,"v":0.764,"e":0.075},{"p":12,"t":0.906,"v":0.75,"e":0.075},{"p":12,"t":0.925,"v":0.73,"e":0.075},{"p":12,"t":0.944,"v":0.73,"e":0.075}
],
"gray": [
{"g":"A","t":0,"lo":1,"hi":1},{"g":"A","t":0.05,"lo":0.997,"hi":1.02},{"g":"A","t":0.1,"lo":0.992,"hi":1.033},{"g":"A","t":0.2,"lo":0.99,"hi":1.052},{"g":"A","t":0.3,"lo":0.99,"hi":1.065},{"g":"A","t":0.4,"lo":0.99,"hi":1.078},{"g":"A","t":0.5,"lo":0.99,"hi":1.095},{"g":"A","t":0.6,"lo":0.992,"hi":1.115},{"g":"A","t":0.7,"lo":1.0,"hi":1.145},{"g":"A","t":0.75,"lo":1.01,"hi":1.168},{"g":"A","t":0.8,"lo":1.03,"hi":1.195},{"g":"A","t":0.85,"lo":1.06,"hi":1.245},{"g":"A","t":0.9,"lo":1.11,"hi":1.31},{"g":"A","t":0.95,"lo":1.2,"hi":1.4},{"g":"A","t":0.98,"lo":1.28,"hi":1.48},
{"g":"B","t":0,"lo":1,"hi":1},{"g":"B","t":0.05,"lo":0.997,"hi":1.022},{"g":"B","t":0.1,"lo":0.993,"hi":1.038},{"g":"B","t":0.2,"lo":0.99,"hi":1.058},{"g":"B","t":0.3,"lo":0.99,"hi":1.07},{"g":"B","t":0.4,"lo":0.99,"hi":1.088},{"g":"B","t":0.5,"lo":0.99,"hi":1.115},{"g":"B","t":0.6,"lo":0.995,"hi":1.15},{"g":"B","t":0.7,"lo":1.02,"hi":1.195},{"g":"B","t":0.75,"lo":1.04,"hi":1.225},{"g":"B","t":0.8,"lo":1.07,"hi":1.26},{"g":"B","t":0.85,"lo":1.115,"hi":1.31},{"g":"B","t":0.9,"lo":1.18,"hi":1.38},{"g":"B","t":0.95,"lo":1.3,"hi":1.52},{"g":"B","t":0.98,"lo":1.4,"hi":1.62}
],
"purple": [
{"g":"A","t":0,"lo":1,"hi":1},{"g":"A","t":0.1,"lo":0.95,"hi":0.982},{"g":"A","t":0.2,"lo":0.895,"hi":0.962},{"g":"A","t":0.3,"lo":0.84,"hi":0.922},{"g":"A","t":0.4,"lo":0.775,"hi":0.885},{"g":"A","t":0.5,"lo":0.71,"hi":0.845},{"g":"A","t":0.6,"lo":0.65,"hi":0.79},{"g":"A","t":0.7,"lo":0.6,"hi":0.74},{"g":"A","t":0.8,"lo":0.55,"hi":0.69},{"g":"A","t":0.9,"lo":0.5,"hi":0.645},{"g":"A","t":1.0,"lo":0.45,"hi":0.6},
{"g":"B","t":0,"lo":1,"hi":1},{"g":"B","t":0.1,"lo":0.952,"hi":0.982},{"g":"B","t":0.2,"lo":0.905,"hi":0.96},{"g":"B","t":0.3,"lo":0.857,"hi":0.925},{"g":"B","t":0.4,"lo":0.805,"hi":0.882},{"g":"B","t":0.5,"lo":0.755,"hi":0.84},{"g":"B","t":0.6,"lo":0.705,"hi":0.8},{"g":"B","t":0.7,"lo":0.655,"hi":0.762},{"g":"B","t":0.8,"lo":0.605,"hi":0.715},{"g":"B","t":0.9,"lo":0.555,"hi":0.655},{"g":"B","t":1.0,"lo":0.5,"hi":0.59}
],
"ref": [{"t":0.25},{"t":0.55}],
"one": [{"v":1}],
"lab": [
{"p":1,"rng":"1.7\u2002<\u2002𝑀/𝑀⊙\u2002<\u20021.8","n":"𝑁 = 7707","m":"⟨𝑀⟩\u2002∼\u20021.75𝑀⊙"},
{"p":2,"rng":"1.8\u2002<\u2002𝑀/𝑀⊙\u2002<\u20021.9","n":"𝑁 = 8350","m":"⟨𝑀⟩\u2002∼\u20021.85𝑀⊙"},
{"p":3,"rng":"1.9\u2002<\u2002𝑀/𝑀⊙\u2002<\u20022.0","n":"𝑁 = 8481","m":"⟨𝑀⟩\u2002∼\u20021.95𝑀⊙"},
{"p":4,"rng":"2.0\u2002<\u2002𝑀/𝑀⊙\u2002<\u20022.1","n":"𝑁 = 7036","m":"⟨𝑀⟩\u2002∼\u20022.05𝑀⊙"},
{"p":5,"rng":"2.1\u2002<\u2002𝑀/𝑀⊙\u2002<\u20022.3","n":"𝑁 = 9551","m":"⟨𝑀⟩\u2002∼\u20022.19𝑀⊙"},
{"p":6,"rng":"2.2\u2002<\u2002𝑀/𝑀⊙\u2002<\u20022.5","n":"𝑁 = 10946","m":"⟨𝑀⟩\u2002∼\u20022.34𝑀⊙"},
{"p":7,"rng":"2.3\u2002<\u2002𝑀/𝑀⊙\u2002<\u20022.8","n":"𝑁 = 14187","m":"⟨𝑀⟩\u2002∼\u20022.52𝑀⊙"},
{"p":8,"rng":"2.3\u2002<\u2002𝑀/𝑀⊙\u2002<\u20023.0","n":"𝑁 = 17759","m":"⟨𝑀⟩\u2002∼\u20022.60𝑀⊙"},
{"p":9,"rng":"2.5\u2002<\u2002𝑀/𝑀⊙\u2002<\u20023.0","n":"𝑁 = 10966","m":"⟨𝑀⟩\u2002∼\u20022.72𝑀⊙"},
{"p":10,"rng":"2.6\u2002<\u2002𝑀/𝑀⊙\u2002<\u20023.1","n":"𝑁 = 9714","m":"⟨𝑀⟩\u2002∼\u20022.82𝑀⊙"},
{"p":11,"rng":"2.7\u2002<\u2002𝑀/𝑀⊙\u2002<\u20023.4","n":"𝑁 = 10426","m":"⟨𝑀⟩\u2002∼\u20022.99𝑀⊙"},
{"p":12,"rng":"2.8\u2002<\u2002𝑀/𝑀⊙\u2002<\u20024.0","n":"𝑁 = 12153","m":"⟨𝑀⟩\u2002∼\u20023.25𝑀⊙"}
]
},
"concat": [
{"width":362,"height":235,"layer":[
{"data":{"name":"obs"},"transform":[{"filter":"datum.p==1"}],"mark":{"type":"errorbar","orient":"vertical","ticks":true,"size":10,"thickness":1.6,"color":"#0C5DA5","clip":true},"encoding":{"x":{"field":"t","type":"quantitative","scale":{"domain":[0,0.98],"nice":false,"zero":false},"axis":{"orient":"bottom","values":[0,0.2,0.4,0.6,0.8],"format":".1f","tickSize":-7,"labelPadding":18,"labels":false,"title":null}},"y":{"field":"v","type":"quantitative","scale":{"domain":[0.887,1.456],"nice":false,"zero":false},"axis":{"orient":"left","values":[1,1.2,1.4],"format":".1f","tickSize":-7,"labelPadding":16,"labels":true,"title":null}},"yError":{"field":"e"}}},
{"data":{"name":"obs"},"transform":[{"filter":"datum.p==1"}],"mark":{"type":"line","color":"#0C5DA5","strokeWidth":3,"clip":true,"point":{"filled":true,"size":42}},"encoding":{"x":{"field":"t","type":"quantitative","axis":{"orient":"bottom","values":[0.05,0.1,0.15,0.25,0.3,0.35,0.45,0.5,0.55,0.65,0.7,0.75,0.85,0.9,0.95],"tickSize":-3.5,"labels":false,"title":null}},"y":{"field":"v","type":"quantitative","axis":{"orient":"left","values":[0.9,0.95,1.05,1.1,1.15,1.25,1.3,1.35,1.45],"tickSize":-3.5,"labels":false,"title":null}}}},
{"data":{"name":"gray"},"transform":[{"filter":"datum.g=='A'"}],"mark":{"type":"area","color":"#808080","opacity":0.5,"clip":true},"encoding":{"x":{"field":"t","type":"quantitative","axis":{"orient":"top","values":[0,0.2,0.4,0.6,0.8],"tickSize":-7,"labels":false,"title":null}},"y":{"field":"lo","type":"quantitative","axis":{"orient":"right","values":[1,1.2,1.4],"tickSize":-7,"labels":false,"title":null}},"y2":{"field":"hi"}}},
{"data":{"name":"purple"},"transform":[{"filter":"datum.g=='A'"}],"mark":{"type":"area","color":"#845B97","opacity":0.4,"clip":true},"encoding":{"x":{"field":"t","type":"quantitative","axis":{"orient":"top","values":[0.05,0.1,0.15,0.25,0.3,0.35,0.45,0.5,0.55,0.65,0.7,0.75,0.85,0.9,0.95],"tickSize":-3.5,"labels":false,"title":null}},"y":{"field":"lo","type":"quantitative","axis":{"orient":"right","values":[0.9,0.95,1.05,1.1,1.15,1.25,1.3,1.35,1.45],"tickSize":-3.5,"labels":false,"title":null}},"y2":{"field":"hi"}}},
{"data":{"name":"ref"},"mark":{"type":"rule","color":"#888888","strokeDash":[8,5],"strokeWidth":1.8},"encoding":{"x":{"field":"t","type":"quantitative","axis":null}}},
{"data":{"name":"one"},"mark":{"type":"rule","color":"black","strokeDash":[10,4],"strokeWidth":2.5},"encoding":{"y":{"field":"v","type":"quantitative","axis":null}}},
{"data":{"name":"lab"},"transform":[{"filter":"datum.p==1"}],"mark":{"type":"text","align":"left","baseline":"middle","fontSize":17},"encoding":{"x":{"datum":0.05,"type":"quantitative","axis":null},"y":{"datum":1.408,"type":"quantitative","axis":null},"text":{"field":"rng"}}},
{"data":{"name":"lab"},"transform":[{"filter":"datum.p==1"}],"mark":{"type":"text","align":"right","baseline":"middle","fontSize":17},"encoding":{"x":{"datum":0.93,"type":"quantitative","axis":null},"y":{"datum":1.408,"type":"quantitative","axis":null},"text":{"field":"n"}}},
{"data":{"name":"lab"},"transform":[{"filter":"datum.p==1"}],"mark":{"type":"text","align":"left","baseline":"middle","fontSize":17},"encoding":{"x":{"datum":0.05,"type":"quantitative","axis":null},"y":{"datum":0.94,"type":"quantitative","axis":null},"text":{"field":"m"}}}
],"resolve":{"axis":{"x":"independent","y":"independent"}}},
{"width":362,"height":235,"layer":[
{"data":{"name":"obs"},"transform":[{"filter":"datum.p==2"}],"mark":{"type":"errorbar","orient":"vertical","ticks":true,"size":10,"thickness":1.6,"color":"#0C5DA5","clip":true},"encoding":{"x":{"field":"t","type":"quantitative","scale":{"domain":[0,0.98],"nice":false,"zero":false},"axis":{"orient":"bottom","values":[0,0.2,0.4,0.6,0.8],"format":".1f","tickSize":-7,"labelPadding":18,"labels":false,"title":null}},"y":{"field":"v","type":"quantitative","scale":{"domain":[0.887,1.456],"nice":false,"zero":false},"axis":{"orient":"left","values":[1,1.2,1.4],"format":".1f","tickSize":-7,"labelPadding":16,"labels":false,"title":null}},"yError":{"field":"e"}}},
{"data":{"name":"obs"},"transform":[{"filter":"datum.p==2"}],"mark":{"type":"line","color":"#0C5DA5","strokeWidth":3,"clip":true,"point":{"filled":true,"size":42}},"encoding":{"x":{"field":"t","type":"quantitative","axis":{"orient":"bottom","values":[0.05,0.1,0.15,0.25,0.3,0.35,0.45,0.5,0.55,0.65,0.7,0.75,0.85,0.9,0.95],"tickSize":-3.5,"labels":false,"title":null}},"y":{"field":"v","type":"quantitative","axis":{"orient":"left","values":[0.9,0.95,1.05,1.1,1.15,1.25,1.3,1.35,1.45],"tickSize":-3.5,"labels":false,"title":null}}}},
{"data":{"name":"gray"},"transform":[{"filter":"datum.g=='A'"}],"mark":{"type":"area","color":"#808080","opacity":0.5,"clip":true},"encoding":{"x":{"field":"t","type":"quantitative","axis":{"orient":"top","values":[0,0.2,0.4,0.6,0.8],"tickSize":-7,"labels":false,"title":null}},"y":{"field":"lo","type":"quantitative","axis":{"orient":"right","values":[1,1.2,1.4],"tickSize":-7,"labels":false,"title":null}},"y2":{"field":"hi"}}},
{"data":{"name":"purple"},"transform":[{"filter":"datum.g=='A'"}],"mark":{"type":"area","color":"#845B97","opacity":0.4,"clip":true},"encoding":{"x":{"field":"t","type":"quantitative","axis":{"orient":"top","values":[0.05,0.1,0.15,0.25,0.3,0.35,0.45,0.5,0.55,0.65,0.7,0.75,0.85,0.9,0.95],"tickSize":-3.5,"labels":false,"title":null}},"y":{"field":"lo","type":"quantitative","axis":{"orient":"right","values":[0.9,0.95,1.05,1.1,1.15,1.25,1.3,1.35,1.45],"tickSize":-3.5,"labels":false,"title":null}},"y2":{"field":"hi"}}},
{"data":{"name":"ref"},"mark":{"type":"rule","color":"#888888","strokeDash":[8,5],"strokeWidth":1.8},"encoding":{"x":{"field":"t","type":"quantitative","axis":null}}},
{"data":{"name":"one"},"mark":{"type":"rule","color":"black","strokeDash":[10,4],"strokeWidth":2.5},"encoding":{"y":{"field":"v","type":"quantitative","axis":null}}},
{"data":{"name":"lab"},"transform":[{"filter":"datum.p==2"}],"mark":{"type":"text","align":"left","baseline":"middle","fontSize":17},"encoding":{"x":{"datum":0.05,"type":"quantitative","axis":null},"y":{"datum":1.408,"type":"quantitative","axis":null},"text":{"field":"rng"}}},
{"data":{"name":"lab"},"transform":[{"filter":"datum.p==2"}],"mark":{"type":"text","align":"right","baseline":"middle","fontSize":17},"encoding":{"x":{"datum":0.93,"type":"quantitative","axis":null},"y":{"datum":1.408,"type":"quantitative","axis":null},"text":{"field":"n"}}},
{"data":{"name":"lab"},"transform":[{"filter":"datum.p==2"}],"mark":{"type":"text","align":"left","baseline":"middle","fontSize":17},"encoding":{"x":{"datum":0.05,"type":"quantitative","axis":null},"y":{"datum":0.94,"type":"quantitative","axis":null},"text":{"field":"m"}}}
],"resolve":{"axis":{"x":"independent","y":"independent"}}},
{"width":362,"height":235,"layer":[
{"data":{"name":"obs"},"transform":[{"filter":"datum.p==3"}],"mark":{"type":"errorbar","orient":"vertical","ticks":true,"size":10,"thickness":1.6,"color":"#0C5DA5","clip":true},"encoding":{"x":{"field":"t","type":"quantitative","scale":{"domain":[0,0.98],"nice":false,"zero":false},"axis":{"orient":"bottom","values":[0,0.2,0.4,0.6,0.8],"format":".1f","tickSize":-7,"labelPadding":18,"labels":false,"title":null}},"y":{"field":"v","type":"quantitative","scale":{"domain":[0.887,1.456],"nice":false,"zero":false},"axis":{"orient":"left","values":[1,1.2,1.4],"format":".1f","tickSize":-7,"labelPadding":16,"labels":false,"title":null}},"yError":{"field":"e"}}},
{"data":{"name":"obs"},"transform":[{"filter":"datum.p==3"}],"mark":{"type":"line","color":"#0C5DA5","strokeWidth":3,"clip":true,"point":{"filled":true,"size":42}},"encoding":{"x":{"field":"t","type":"quantitative","axis":{"orient":"bottom","values":[0.05,0.1,0.15,0.25,0.3,0.35,0.45,0.5,0.55,0.65,0.7,0.75,0.85,0.9,0.95],"tickSize":-3.5,"labels":false,"title":null}},"y":{"field":"v","type":"quantitative","axis":{"orient":"left","values":[0.9,0.95,1.05,1.1,1.15,1.25,1.3,1.35,1.45],"tickSize":-3.5,"labels":false,"title":null}}}},
{"data":{"name":"gray"},"transform":[{"filter":"datum.g=='A'"}],"mark":{"type":"area","color":"#808080","opacity":0.5,"clip":true},"encoding":{"x":{"field":"t","type":"quantitative","axis":{"orient":"top","values":[0,0.2,0.4,0.6,0.8],"tickSize":-7,"labels":false,"title":null}},"y":{"field":"lo","type":"quantitative","axis":{"orient":"right","values":[1,1.2,1.4],"tickSize":-7,"labels":false,"title":null}},"y2":{"field":"hi"}}},
{"data":{"name":"purple"},"transform":[{"filter":"datum.g=='A'"}],"mark":{"type":"area","color":"#845B97","opacity":0.4,"clip":true},"encoding":{"x":{"field":"t","type":"quantitative","axis":{"orient":"top","values":[0.05,0.1,0.15,0.25,0.3,0.35,0.45,0.5,0.55,0.65,0.7,0.75,0.85,0.9,0.95],"tickSize":-3.5,"labels":false,"title":null}},"y":{"field":"lo","type":"quantitative","axis":{"orient":"right","values":[0.9,0.95,1.05,1.1,1.15,1.25,1.3,1.35,1.45],"tickSize":-3.5,"labels":false,"title":null}},"y2":{"field":"hi"}}},
{"data":{"name":"ref"},"mark":{"type":"rule","color":"#888888","strokeDash":[8,5],"strokeWidth":1.8},"encoding":{"x":{"field":"t","type":"quantitative","axis":null}}},
{"data":{"name":"one"},"mark":{"type":"rule","color":"black","strokeDash":[10,4],"strokeWidth":2.5},"encoding":{"y":{"field":"v","type":"quantitative","axis":null}}},
{"data":{"name":"lab"},"transform":[{"filter":"datum.p==3"}],"mark":{"type":"text","align":"left","baseline":"middle","fontSize":17},"encoding":{"x":{"datum":0.05,"type":"quantitative","axis":null},"y":{"datum":1.408,"type":"quantitative","axis":null},"text":{"field":"rng"}}},
{"data":{"name":"lab"},"transform":[{"filter":"datum.p==3"}],"mark":{"type":"text","align":"right","baseline":"middle","fontSize":17},"encoding":{"x":{"datum":0.93,"type":"quantitative","axis":null},"y":{"datum":1.408,"type":"quantitative","axis":null},"text":{"field":"n"}}},
{"data":{"name":"lab"},"transform":[{"filter":"datum.p==3"}],"mark":{"type":"text","align":"left","baseline":"middle","fontSize":17},"encoding":{"x":{"datum":0.05,"type":"quantitative","axis":null},"y":{"datum":0.94,"type":"quantitative","axis":null},"text":{"field":"m"}}}
],"resolve":{"axis":{"x":"independent","y":"independent"}}},
{"width":362,"height":235,"layer":[
{"data":{"name":"obs"},"transform":[{"filter":"datum.p==4"}],"mark":{"type":"errorbar","orient":"vertical","ticks":true,"size":10,"thickness":1.6,"color":"#0C5DA5","clip":true},"encoding":{"x":{"field":"t","type":"quantitative","scale":{"domain":[0,0.98],"nice":false,"zero":false},"axis":{"orient":"bottom","values":[0,0.2,0.4,0.6,0.8],"format":".1f","tickSize":-7,"labelPadding":18,"labels":false,"title":null}},"y":{"field":"v","type":"quantitative","scale":{"domain":[0.771,1.453],"nice":false,"zero":false},"axis":{"orient":"left","values":[0.8,1,1.2,1.4],"format":".1f","tickSize":-7,"labelPadding":16,"labels":true,"title":"⟨𝑣/𝑣ZAMS⟩","titlePadding":24,"titleY":138}},"yError":{"field":"e"}}},
{"data":{"name":"obs"},"transform":[{"filter":"datum.p==4"}],"mark":{"type":"line","color":"#0C5DA5","strokeWidth":3,"clip":true,"point":{"filled":true,"size":42}},"encoding":{"x":{"field":"t","type":"quantitative","axis":{"orient":"bottom","values":[0.05,0.1,0.15,0.25,0.3,0.35,0.45,0.5,0.55,0.65,0.7,0.75,0.85,0.9,0.95],"tickSize":-3.5,"labels":false,"title":null}},"y":{"field":"v","type":"quantitative","axis":{"orient":"left","values":[0.85,0.9,0.95,1.05,1.1,1.15,1.25,1.3,1.35,1.45],"tickSize":-3.5,"labels":false,"title":null}}}},
{"data":{"name":"gray"},"transform":[{"filter":"datum.g=='A'"}],"mark":{"type":"area","color":"#808080","opacity":0.5,"clip":true},"encoding":{"x":{"field":"t","type":"quantitative","axis":{"orient":"top","values":[0,0.2,0.4,0.6,0.8],"tickSize":-7,"labels":false,"title":null}},"y":{"field":"lo","type":"quantitative","axis":{"orient":"right","values":[0.8,1,1.2,1.4],"tickSize":-7,"labels":false,"title":null}},"y2":{"field":"hi"}}},
{"data":{"name":"purple"},"transform":[{"filter":"datum.g=='A'"}],"mark":{"type":"area","color":"#845B97","opacity":0.4,"clip":true},"encoding":{"x":{"field":"t","type":"quantitative","axis":{"orient":"top","values":[0.05,0.1,0.15,0.25,0.3,0.35,0.45,0.5,0.55,0.65,0.7,0.75,0.85,0.9,0.95],"tickSize":-3.5,"labels":false,"title":null}},"y":{"field":"lo","type":"quantitative","axis":{"orient":"right","values":[0.85,0.9,0.95,1.05,1.1,1.15,1.25,1.3,1.35,1.45],"tickSize":-3.5,"labels":false,"title":null}},"y2":{"field":"hi"}}},
{"data":{"name":"ref"},"mark":{"type":"rule","color":"#888888","strokeDash":[8,5],"strokeWidth":1.8},"encoding":{"x":{"field":"t","type":"quantitative","axis":null}}},
{"data":{"name":"one"},"mark":{"type":"rule","color":"black","strokeDash":[10,4],"strokeWidth":2.5},"encoding":{"y":{"field":"v","type":"quantitative","axis":null}}},
{"data":{"name":"lab"},"transform":[{"filter":"datum.p==4"}],"mark":{"type":"text","align":"left","baseline":"middle","fontSize":17},"encoding":{"x":{"datum":0.05,"type":"quantitative","axis":null},"y":{"datum":1.395,"type":"quantitative","axis":null},"text":{"field":"rng"}}},
{"data":{"name":"lab"},"transform":[{"filter":"datum.p==4"}],"mark":{"type":"text","align":"right","baseline":"middle","fontSize":17},"encoding":{"x":{"datum":0.93,"type":"quantitative","axis":null},"y":{"datum":1.395,"type":"quantitative","axis":null},"text":{"field":"n"}}},
{"data":{"name":"lab"},"transform":[{"filter":"datum.p==4"}],"mark":{"type":"text","align":"left","baseline":"middle","fontSize":17},"encoding":{"x":{"datum":0.05,"type":"quantitative","axis":null},"y":{"datum":0.835,"type":"quantitative","axis":null},"text":{"field":"m"}}}
],"resolve":{"axis":{"x":"independent","y":"independent"}}},
{"width":362,"height":235,"layer":[
{"data":{"name":"obs"},"transform":[{"filter":"datum.p==5"}],"mark":{"type":"errorbar","orient":"vertical","ticks":true,"size":10,"thickness":1.6,"color":"#0C5DA5","clip":true},"encoding":{"x":{"field":"t","type":"quantitative","scale":{"domain":[0,0.98],"nice":false,"zero":false},"axis":{"orient":"bottom","values":[0,0.2,0.4,0.6,0.8],"format":".1f","tickSize":-7,"labelPadding":18,"labels":false,"title":null}},"y":{"field":"v","type":"quantitative","scale":{"domain":[0.771,1.453],"nice":false,"zero":false},"axis":{"orient":"left","values":[0.8,1,1.2,1.4],"format":".1f","tickSize":-7,"labelPadding":16,"labels":false,"title":null}},"yError":{"field":"e"}}},
{"data":{"name":"obs"},"transform":[{"filter":"datum.p==5"}],"mark":{"type":"line","color":"#0C5DA5","strokeWidth":3,"clip":true,"point":{"filled":true,"size":42}},"encoding":{"x":{"field":"t","type":"quantitative","axis":{"orient":"bottom","values":[0.05,0.1,0.15,0.25,0.3,0.35,0.45,0.5,0.55,0.65,0.7,0.75,0.85,0.9,0.95],"tickSize":-3.5,"labels":false,"title":null}},"y":{"field":"v","type":"quantitative","axis":{"orient":"left","values":[0.85,0.9,0.95,1.05,1.1,1.15,1.25,1.3,1.35,1.45],"tickSize":-3.5,"labels":false,"title":null}}}},
{"data":{"name":"gray"},"transform":[{"filter":"datum.g=='A'"}],"mark":{"type":"area","color":"#808080","opacity":0.5,"clip":true},"encoding":{"x":{"field":"t","type":"quantitative","axis":{"orient":"top","values":[0,0.2,0.4,0.6,0.8],"tickSize":-7,"labels":false,"title":null}},"y":{"field":"lo","type":"quantitative","axis":{"orient":"right","values":[0.8,1,1.2,1.4],"tickSize":-7,"labels":false,"title":null}},"y2":{"field":"hi"}}},
{"data":{"name":"purple"},"transform":[{"filter":"datum.g=='A'"}],"mark":{"type":"area","color":"#845B97","opacity":0.4,"clip":true},"encoding":{"x":{"field":"t","type":"quantitative","axis":{"orient":"top","values":[0.05,0.1,0.15,0.25,0.3,0.35,0.45,0.5,0.55,0.65,0.7,0.75,0.85,0.9,0.95],"tickSize":-3.5,"labels":false,"title":null}},"y":{"field":"lo","type":"quantitative","axis":{"orient":"right","values":[0.85,0.9,0.95,1.05,1.1,1.15,1.25,1.3,1.35,1.45],"tickSize":-3.5,"labels":false,"title":null}},"y2":{"field":"hi"}}},
{"data":{"name":"ref"},"mark":{"type":"rule","color":"#888888","strokeDash":[8,5],"strokeWidth":1.8},"encoding":{"x":{"field":"t","type":"quantitative","axis":null}}},
{"data":{"name":"one"},"mark":{"type":"rule","color":"black","strokeDash":[10,4],"strokeWidth":2.5},"encoding":{"y":{"field":"v","type":"quantitative","axis":null}}},
{"data":{"name":"lab"},"transform":[{"filter":"datum.p==5"}],"mark":{"type":"text","align":"left","baseline":"middle","fontSize":17},"encoding":{"x":{"datum":0.05,"type":"quantitative","axis":null},"y":{"datum":1.395,"type":"quantitative","axis":null},"text":{"field":"rng"}}},
{"data":{"name":"lab"},"transform":[{"filter":"datum.p==5"}],"mark":{"type":"text","align":"right","baseline":"middle","fontSize":17},"encoding":{"x":{"datum":0.93,"type":"quantitative","axis":null},"y":{"datum":1.395,"type":"quantitative","axis":null},"text":{"field":"n"}}},
{"data":{"name":"lab"},"transform":[{"filter":"datum.p==5"}],"mark":{"type":"text","align":"left","baseline":"middle","fontSize":17},"encoding":{"x":{"datum":0.05,"type":"quantitative","axis":null},"y":{"datum":0.835,"type":"quantitative","axis":null},"text":{"field":"m"}}}
],"resolve":{"axis":{"x":"independent","y":"independent"}}},
{"width":362,"height":235,"layer":[
{"data":{"name":"obs"},"transform":[{"filter":"datum.p==6"}],"mark":{"type":"errorbar","orient":"vertical","ticks":true,"size":10,"thickness":1.6,"color":"#0C5DA5","clip":true},"encoding":{"x":{"field":"t","type":"quantitative","scale":{"domain":[0,0.98],"nice":false,"zero":false},"axis":{"orient":"bottom","values":[0,0.2,0.4,0.6,0.8],"format":".1f","tickSize":-7,"labelPadding":18,"labels":false,"title":null}},"y":{"field":"v","type":"quantitative","scale":{"domain":[0.771,1.453],"nice":false,"zero":false},"axis":{"orient":"left","values":[0.8,1,1.2,1.4],"format":".1f","tickSize":-7,"labelPadding":16,"labels":false,"title":null}},"yError":{"field":"e"}}},
{"data":{"name":"obs"},"transform":[{"filter":"datum.p==6"}],"mark":{"type":"line","color":"#0C5DA5","strokeWidth":3,"clip":true,"point":{"filled":true,"size":42}},"encoding":{"x":{"field":"t","type":"quantitative","axis":{"orient":"bottom","values":[0.05,0.1,0.15,0.25,0.3,0.35,0.45,0.5,0.55,0.65,0.7,0.75,0.85,0.9,0.95],"tickSize":-3.5,"labels":false,"title":null}},"y":{"field":"v","type":"quantitative","axis":{"orient":"left","values":[0.85,0.9,0.95,1.05,1.1,1.15,1.25,1.3,1.35,1.45],"tickSize":-3.5,"labels":false,"title":null}}}},
{"data":{"name":"gray"},"transform":[{"filter":"datum.g=='A'"}],"mark":{"type":"area","color":"#808080","opacity":0.5,"clip":true},"encoding":{"x":{"field":"t","type":"quantitative","axis":{"orient":"top","values":[0,0.2,0.4,0.6,0.8],"tickSize":-7,"labels":false,"title":null}},"y":{"field":"lo","type":"quantitative","axis":{"orient":"right","values":[0.8,1,1.2,1.4],"tickSize":-7,"labels":false,"title":null}},"y2":{"field":"hi"}}},
{"data":{"name":"purple"},"transform":[{"filter":"datum.g=='A'"}],"mark":{"type":"area","color":"#845B97","opacity":0.4,"clip":true},"encoding":{"x":{"field":"t","type":"quantitative","axis":{"orient":"top","values":[0.05,0.1,0.15,0.25,0.3,0.35,0.45,0.5,0.55,0.65,0.7,0.75,0.85,0.9,0.95],"tickSize":-3.5,"labels":false,"title":null}},"y":{"field":"lo","type":"quantitative","axis":{"orient":"right","values":[0.85,0.9,0.95,1.05,1.1,1.15,1.25,1.3,1.35,1.45],"tickSize":-3.5,"labels":false,"title":null}},"y2":{"field":"hi"}}},
{"data":{"name":"ref"},"mark":{"type":"rule","color":"#888888","strokeDash":[8,5],"strokeWidth":1.8},"encoding":{"x":{"field":"t","type":"quantitative","axis":null}}},
{"data":{"name":"one"},"mark":{"type":"rule","color":"black","strokeDash":[10,4],"strokeWidth":2.5},"encoding":{"y":{"field":"v","type":"quantitative","axis":null}}},
{"data":{"name":"lab"},"transform":[{"filter":"datum.p==6"}],"mark":{"type":"text","align":"left","baseline":"middle","fontSize":17},"encoding":{"x":{"datum":0.05,"type":"quantitative","axis":null},"y":{"datum":1.395,"type":"quantitative","axis":null},"text":{"field":"rng"}}},
{"data":{"name":"lab"},"transform":[{"filter":"datum.p==6"}],"mark":{"type":"text","align":"right","baseline":"middle","fontSize":17},"encoding":{"x":{"datum":0.93,"type":"quantitative","axis":null},"y":{"datum":1.395,"type":"quantitative","axis":null},"text":{"field":"n"}}},
{"data":{"name":"lab"},"transform":[{"filter":"datum.p==6"}],"mark":{"type":"text","align":"left","baseline":"middle","fontSize":17},"encoding":{"x":{"datum":0.05,"type":"quantitative","axis":null},"y":{"datum":0.835,"type":"quantitative","axis":null},"text":{"field":"m"}}}
],"resolve":{"axis":{"x":"independent","y":"independent"}}},
{"width":362,"height":235,"layer":[
{"data":{"name":"obs"},"transform":[{"filter":"datum.p==7"}],"mark":{"type":"errorbar","orient":"vertical","ticks":true,"size":10,"thickness":1.6,"color":"#0C5DA5","clip":true},"encoding":{"x":{"field":"t","type":"quantitative","scale":{"domain":[0,0.98],"nice":false,"zero":false},"axis":{"orient":"bottom","values":[0,0.2,0.4,0.6,0.8],"format":".1f","tickSize":-7,"labelPadding":18,"labels":false,"title":null}},"y":{"field":"v","type":"quantitative","scale":{"domain":[0.549,1.343],"nice":false,"zero":false},"axis":{"orient":"left","values":[0.6,0.8,1,1.2],"format":".1f","tickSize":-7,"labelPadding":16,"labels":true,"title":null}},"yError":{"field":"e"}}},
{"data":{"name":"obs"},"transform":[{"filter":"datum.p==7"}],"mark":{"type":"line","color":"#0C5DA5","strokeWidth":3,"clip":true,"point":{"filled":true,"size":42}},"encoding":{"x":{"field":"t","type":"quantitative","axis":{"orient":"bottom","values":[0.05,0.1,0.15,0.25,0.3,0.35,0.45,0.5,0.55,0.65,0.7,0.75,0.85,0.9,0.95],"tickSize":-3.5,"labels":false,"title":null}},"y":{"field":"v","type":"quantitative","axis":{"orient":"left","values":[0.55,0.65,0.7,0.75,0.85,0.9,0.95,1.05,1.1,1.15,1.25,1.3],"tickSize":-3.5,"labels":false,"title":null}}}},
{"data":{"name":"gray"},"transform":[{"filter":"datum.g=='A'"}],"mark":{"type":"area","color":"#808080","opacity":0.5,"clip":true},"encoding":{"x":{"field":"t","type":"quantitative","axis":{"orient":"top","values":[0,0.2,0.4,0.6,0.8],"tickSize":-7,"labels":false,"title":null}},"y":{"field":"lo","type":"quantitative","axis":{"orient":"right","values":[0.6,0.8,1,1.2],"tickSize":-7,"labels":false,"title":null}},"y2":{"field":"hi"}}},
{"data":{"name":"purple"},"transform":[{"filter":"datum.g=='B'"}],"mark":{"type":"area","color":"#845B97","opacity":0.4,"clip":true},"encoding":{"x":{"field":"t","type":"quantitative","axis":{"orient":"top","values":[0.05,0.1,0.15,0.25,0.3,0.35,0.45,0.5,0.55,0.65,0.7,0.75,0.85,0.9,0.95],"tickSize":-3.5,"labels":false,"title":null}},"y":{"field":"lo","type":"quantitative","axis":{"orient":"right","values":[0.55,0.65,0.7,0.75,0.85,0.9,0.95,1.05,1.1,1.15,1.25,1.3],"tickSize":-3.5,"labels":false,"title":null}},"y2":{"field":"hi"}}},
{"data":{"name":"ref"},"mark":{"type":"rule","color":"#888888","strokeDash":[8,5],"strokeWidth":1.8},"encoding":{"x":{"field":"t","type":"quantitative","axis":null}}},
{"data":{"name":"one"},"mark":{"type":"rule","color":"black","strokeDash":[10,4],"strokeWidth":2.5},"encoding":{"y":{"field":"v","type":"quantitative","axis":null}}},
{"data":{"name":"lab"},"transform":[{"filter":"datum.p==7"}],"mark":{"type":"text","align":"left","baseline":"middle","fontSize":17},"encoding":{"x":{"datum":0.05,"type":"quantitative","axis":null},"y":{"datum":1.275,"type":"quantitative","axis":null},"text":{"field":"rng"}}},
{"data":{"name":"lab"},"transform":[{"filter":"datum.p==7"}],"mark":{"type":"text","align":"right","baseline":"middle","fontSize":17},"encoding":{"x":{"datum":0.93,"type":"quantitative","axis":null},"y":{"datum":1.275,"type":"quantitative","axis":null},"text":{"field":"n"}}},
{"data":{"name":"lab"},"transform":[{"filter":"datum.p==7"}],"mark":{"type":"text","align":"left","baseline":"middle","fontSize":17},"encoding":{"x":{"datum":0.05,"type":"quantitative","axis":null},"y":{"datum":0.624,"type":"quantitative","axis":null},"text":{"field":"m"}}}
],"resolve":{"axis":{"x":"independent","y":"independent"}}},
{"width":362,"height":235,"layer":[
{"data":{"name":"obs"},"transform":[{"filter":"datum.p==8"}],"mark":{"type":"errorbar","orient":"vertical","ticks":true,"size":10,"thickness":1.6,"color":"#0C5DA5","clip":true},"encoding":{"x":{"field":"t","type":"quantitative","scale":{"domain":[0,0.98],"nice":false,"zero":false},"axis":{"orient":"bottom","values":[0,0.2,0.4,0.6,0.8],"format":".1f","tickSize":-7,"labelPadding":18,"labels":false,"title":null}},"y":{"field":"v","type":"quantitative","scale":{"domain":[0.549,1.343],"nice":false,"zero":false},"axis":{"orient":"left","values":[0.6,0.8,1,1.2],"format":".1f","tickSize":-7,"labelPadding":16,"labels":false,"title":null}},"yError":{"field":"e"}}},
{"data":{"name":"obs"},"transform":[{"filter":"datum.p==8"}],"mark":{"type":"line","color":"#0C5DA5","strokeWidth":3,"clip":true,"point":{"filled":true,"size":42}},"encoding":{"x":{"field":"t","type":"quantitative","axis":{"orient":"bottom","values":[0.05,0.1,0.15,0.25,0.3,0.35,0.45,0.5,0.55,0.65,0.7,0.75,0.85,0.9,0.95],"tickSize":-3.5,"labels":false,"title":null}},"y":{"field":"v","type":"quantitative","axis":{"orient":"left","values":[0.55,0.65,0.7,0.75,0.85,0.9,0.95,1.05,1.1,1.15,1.25,1.3],"tickSize":-3.5,"labels":false,"title":null}}}},
{"data":{"name":"gray"},"transform":[{"filter":"datum.g=='A'"}],"mark":{"type":"area","color":"#808080","opacity":0.5,"clip":true},"encoding":{"x":{"field":"t","type":"quantitative","axis":{"orient":"top","values":[0,0.2,0.4,0.6,0.8],"tickSize":-7,"labels":false,"title":null}},"y":{"field":"lo","type":"quantitative","axis":{"orient":"right","values":[0.6,0.8,1,1.2],"tickSize":-7,"labels":false,"title":null}},"y2":{"field":"hi"}}},
{"data":{"name":"purple"},"transform":[{"filter":"datum.g=='B'"}],"mark":{"type":"area","color":"#845B97","opacity":0.4,"clip":true},"encoding":{"x":{"field":"t","type":"quantitative","axis":{"orient":"top","values":[0.05,0.1,0.15,0.25,0.3,0.35,0.45,0.5,0.55,0.65,0.7,0.75,0.85,0.9,0.95],"tickSize":-3.5,"labels":false,"title":null}},"y":{"field":"lo","type":"quantitative","axis":{"orient":"right","values":[0.55,0.65,0.7,0.75,0.85,0.9,0.95,1.05,1.1,1.15,1.25,1.3],"tickSize":-3.5,"labels":false,"title":null}},"y2":{"field":"hi"}}},
{"data":{"name":"ref"},"mark":{"type":"rule","color":"#888888","strokeDash":[8,5],"strokeWidth":1.8},"encoding":{"x":{"field":"t","type":"quantitative","axis":null}}},
{"data":{"name":"one"},"mark":{"type":"rule","color":"black","strokeDash":[10,4],"strokeWidth":2.5},"encoding":{"y":{"field":"v","type":"quantitative","axis":null}}},
{"data":{"name":"lab"},"transform":[{"filter":"datum.p==8"}],"mark":{"type":"text","align":"left","baseline":"middle","fontSize":17},"encoding":{"x":{"datum":0.05,"type":"quantitative","axis":null},"y":{"datum":1.275,"type":"quantitative","axis":null},"text":{"field":"rng"}}},
{"data":{"name":"lab"},"transform":[{"filter":"datum.p==8"}],"mark":{"type":"text","align":"right","baseline":"middle","fontSize":17},"encoding":{"x":{"datum":0.93,"type":"quantitative","axis":null},"y":{"datum":1.275,"type":"quantitative","axis":null},"text":{"field":"n"}}},
{"data":{"name":"lab"},"transform":[{"filter":"datum.p==8"}],"mark":{"type":"text","align":"left","baseline":"middle","fontSize":17},"encoding":{"x":{"datum":0.05,"type":"quantitative","axis":null},"y":{"datum":0.624,"type":"quantitative","axis":null},"text":{"field":"m"}}}
],"resolve":{"axis":{"x":"independent","y":"independent"}}},
{"width":362,"height":235,"layer":[
{"data":{"name":"obs"},"transform":[{"filter":"datum.p==9"}],"mark":{"type":"errorbar","orient":"vertical","ticks":true,"size":10,"thickness":1.6,"color":"#0C5DA5","clip":true},"encoding":{"x":{"field":"t","type":"quantitative","scale":{"domain":[0,0.98],"nice":false,"zero":false},"axis":{"orient":"bottom","values":[0,0.2,0.4,0.6,0.8],"format":".1f","tickSize":-7,"labelPadding":18,"labels":false,"title":null}},"y":{"field":"v","type":"quantitative","scale":{"domain":[0.549,1.343],"nice":false,"zero":false},"axis":{"orient":"left","values":[0.6,0.8,1,1.2],"format":".1f","tickSize":-7,"labelPadding":16,"labels":false,"title":null}},"yError":{"field":"e"}}},
{"data":{"name":"obs"},"transform":[{"filter":"datum.p==9"}],"mark":{"type":"line","color":"#0C5DA5","strokeWidth":3,"clip":true,"point":{"filled":true,"size":42}},"encoding":{"x":{"field":"t","type":"quantitative","axis":{"orient":"bottom","values":[0.05,0.1,0.15,0.25,0.3,0.35,0.45,0.5,0.55,0.65,0.7,0.75,0.85,0.9,0.95],"tickSize":-3.5,"labels":false,"title":null}},"y":{"field":"v","type":"quantitative","axis":{"orient":"left","values":[0.55,0.65,0.7,0.75,0.85,0.9,0.95,1.05,1.1,1.15,1.25,1.3],"tickSize":-3.5,"labels":false,"title":null}}}},
{"data":{"name":"gray"},"transform":[{"filter":"datum.g=='A'"}],"mark":{"type":"area","color":"#808080","opacity":0.5,"clip":true},"encoding":{"x":{"field":"t","type":"quantitative","axis":{"orient":"top","values":[0,0.2,0.4,0.6,0.8],"tickSize":-7,"labels":false,"title":null}},"y":{"field":"lo","type":"quantitative","axis":{"orient":"right","values":[0.6,0.8,1,1.2],"tickSize":-7,"labels":false,"title":null}},"y2":{"field":"hi"}}},
{"data":{"name":"purple"},"transform":[{"filter":"datum.g=='B'"}],"mark":{"type":"area","color":"#845B97","opacity":0.4,"clip":true},"encoding":{"x":{"field":"t","type":"quantitative","axis":{"orient":"top","values":[0.05,0.1,0.15,0.25,0.3,0.35,0.45,0.5,0.55,0.65,0.7,0.75,0.85,0.9,0.95],"tickSize":-3.5,"labels":false,"title":null}},"y":{"field":"lo","type":"quantitative","axis":{"orient":"right","values":[0.55,0.65,0.7,0.75,0.85,0.9,0.95,1.05,1.1,1.15,1.25,1.3],"tickSize":-3.5,"labels":false,"title":null}},"y2":{"field":"hi"}}},
{"data":{"name":"ref"},"mark":{"type":"rule","color":"#888888","strokeDash":[8,5],"strokeWidth":1.8},"encoding":{"x":{"field":"t","type":"quantitative","axis":null}}},
{"data":{"name":"one"},"mark":{"type":"rule","color":"black","strokeDash":[10,4],"strokeWidth":2.5},"encoding":{"y":{"field":"v","type":"quantitative","axis":null}}},
{"data":{"name":"lab"},"transform":[{"filter":"datum.p==9"}],"mark":{"type":"text","align":"left","baseline":"middle","fontSize":17},"encoding":{"x":{"datum":0.05,"type":"quantitative","axis":null},"y":{"datum":1.275,"type":"quantitative","axis":null},"text":{"field":"rng"}}},
{"data":{"name":"lab"},"transform":[{"filter":"datum.p==9"}],"mark":{"type":"text","align":"right","baseline":"middle","fontSize":17},"encoding":{"x":{"datum":0.93,"type":"quantitative","axis":null},"y":{"datum":1.275,"type":"quantitative","axis":null},"text":{"field":"n"}}},
{"data":{"name":"lab"},"transform":[{"filter":"datum.p==9"}],"mark":{"type":"text","align":"left","baseline":"middle","fontSize":17},"encoding":{"x":{"datum":0.05,"type":"quantitative","axis":null},"y":{"datum":0.624,"type":"quantitative","axis":null},"text":{"field":"m"}}}
],"resolve":{"axis":{"x":"independent","y":"independent"}}},
{"width":362,"height":235,"layer":[
{"data":{"name":"obs"},"transform":[{"filter":"datum.p==10"}],"mark":{"type":"errorbar","orient":"vertical","ticks":true,"size":10,"thickness":1.6,"color":"#0C5DA5","clip":true},"encoding":{"x":{"field":"t","type":"quantitative","scale":{"domain":[0,0.98],"nice":false,"zero":false},"axis":{"orient":"bottom","values":[0,0.2,0.4,0.6,0.8],"format":".1f","tickSize":-7,"labelPadding":18,"labels":true,"title":null}},"y":{"field":"v","type":"quantitative","scale":{"domain":[0.621,1.571],"nice":false,"zero":false},"axis":{"orient":"left","values":[0.8,1,1.2,1.4],"format":".1f","tickSize":-7,"labelPadding":16,"labels":true,"title":null}},"yError":{"field":"e"}}},
{"data":{"name":"obs"},"transform":[{"filter":"datum.p==10"}],"mark":{"type":"line","color":"#0C5DA5","strokeWidth":3,"clip":true,"point":{"filled":true,"size":42}},"encoding":{"x":{"field":"t","type":"quantitative","axis":{"orient":"bottom","values":[0.05,0.1,0.15,0.25,0.3,0.35,0.45,0.5,0.55,0.65,0.7,0.75,0.85,0.9,0.95],"tickSize":-3.5,"labels":false,"title":null}},"y":{"field":"v","type":"quantitative","axis":{"orient":"left","values":[0.65,0.7,0.75,0.85,0.9,0.95,1.05,1.1,1.15,1.25,1.3,1.35,1.45,1.5,1.55],"tickSize":-3.5,"labels":false,"title":null}}}},
{"data":{"name":"gray"},"transform":[{"filter":"datum.g=='B'"}],"mark":{"type":"area","color":"#808080","opacity":0.5,"clip":true},"encoding":{"x":{"field":"t","type":"quantitative","axis":{"orient":"top","values":[0,0.2,0.4,0.6,0.8],"tickSize":-7,"labels":false,"title":null}},"y":{"field":"lo","type":"quantitative","axis":{"orient":"right","values":[0.8,1,1.2,1.4],"tickSize":-7,"labels":false,"title":null}},"y2":{"field":"hi"}}},
{"data":{"name":"purple"},"transform":[{"filter":"datum.g=='B'"}],"mark":{"type":"area","color":"#845B97","opacity":0.4,"clip":true},"encoding":{"x":{"field":"t","type":"quantitative","axis":{"orient":"top","values":[0.05,0.1,0.15,0.25,0.3,0.35,0.45,0.5,0.55,0.65,0.7,0.75,0.85,0.9,0.95],"tickSize":-3.5,"labels":false,"title":null}},"y":{"field":"lo","type":"quantitative","axis":{"orient":"right","values":[0.65,0.7,0.75,0.85,0.9,0.95,1.05,1.1,1.15,1.25,1.3,1.35,1.45,1.5,1.55],"tickSize":-3.5,"labels":false,"title":null}},"y2":{"field":"hi"}}},
{"data":{"name":"ref"},"mark":{"type":"rule","color":"#888888","strokeDash":[8,5],"strokeWidth":1.8},"encoding":{"x":{"field":"t","type":"quantitative","axis":null}}},
{"data":{"name":"one"},"mark":{"type":"rule","color":"black","strokeDash":[10,4],"strokeWidth":2.5},"encoding":{"y":{"field":"v","type":"quantitative","axis":null}}},
{"data":{"name":"lab"},"transform":[{"filter":"datum.p==10"}],"mark":{"type":"text","align":"left","baseline":"middle","fontSize":17},"encoding":{"x":{"datum":0.05,"type":"quantitative","axis":null},"y":{"datum":1.49,"type":"quantitative","axis":null},"text":{"field":"rng"}}},
{"data":{"name":"lab"},"transform":[{"filter":"datum.p==10"}],"mark":{"type":"text","align":"right","baseline":"middle","fontSize":17},"encoding":{"x":{"datum":0.93,"type":"quantitative","axis":null},"y":{"datum":1.49,"type":"quantitative","axis":null},"text":{"field":"n"}}},
{"data":{"name":"lab"},"transform":[{"filter":"datum.p==10"}],"mark":{"type":"text","align":"left","baseline":"middle","fontSize":17},"encoding":{"x":{"datum":0.05,"type":"quantitative","axis":null},"y":{"datum":0.71,"type":"quantitative","axis":null},"text":{"field":"m"}}}
],"resolve":{"axis":{"x":"independent","y":"independent"}}},
{"width":362,"height":235,"layer":[
{"data":{"name":"obs"},"transform":[{"filter":"datum.p==11"}],"mark":{"type":"errorbar","orient":"vertical","ticks":true,"size":10,"thickness":1.6,"color":"#0C5DA5","clip":true},"encoding":{"x":{"field":"t","type":"quantitative","scale":{"domain":[0,0.98],"nice":false,"zero":false},"axis":{"orient":"bottom","values":[0,0.2,0.4,0.6,0.8],"format":".1f","tickSize":-7,"labelPadding":18,"labels":true,"title":"𝑡/𝑡MS","titlePadding":36,"titleX":166}},"y":{"field":"v","type":"quantitative","scale":{"domain":[0.621,1.571],"nice":false,"zero":false},"axis":{"orient":"left","values":[0.8,1,1.2,1.4],"format":".1f","tickSize":-7,"labelPadding":16,"labels":false,"title":null}},"yError":{"field":"e"}}},
{"data":{"name":"obs"},"transform":[{"filter":"datum.p==11"}],"mark":{"type":"line","color":"#0C5DA5","strokeWidth":3,"clip":true,"point":{"filled":true,"size":42}},"encoding":{"x":{"field":"t","type":"quantitative","axis":{"orient":"bottom","values":[0.05,0.1,0.15,0.25,0.3,0.35,0.45,0.5,0.55,0.65,0.7,0.75,0.85,0.9,0.95],"tickSize":-3.5,"labels":false,"title":null}},"y":{"field":"v","type":"quantitative","axis":{"orient":"left","values":[0.65,0.7,0.75,0.85,0.9,0.95,1.05,1.1,1.15,1.25,1.3,1.35,1.45,1.5,1.55],"tickSize":-3.5,"labels":false,"title":null}}}},
{"data":{"name":"gray"},"transform":[{"filter":"datum.g=='B'"}],"mark":{"type":"area","color":"#808080","opacity":0.5,"clip":true},"encoding":{"x":{"field":"t","type":"quantitative","axis":{"orient":"top","values":[0,0.2,0.4,0.6,0.8],"tickSize":-7,"labels":false,"title":null}},"y":{"field":"lo","type":"quantitative","axis":{"orient":"right","values":[0.8,1,1.2,1.4],"tickSize":-7,"labels":false,"title":null}},"y2":{"field":"hi"}}},
{"data":{"name":"purple"},"transform":[{"filter":"datum.g=='B'"}],"mark":{"type":"area","color":"#845B97","opacity":0.4,"clip":true},"encoding":{"x":{"field":"t","type":"quantitative","axis":{"orient":"top","values":[0.05,0.1,0.15,0.25,0.3,0.35,0.45,0.5,0.55,0.65,0.7,0.75,0.85,0.9,0.95],"tickSize":-3.5,"labels":false,"title":null}},"y":{"field":"lo","type":"quantitative","axis":{"orient":"right","values":[0.65,0.7,0.75,0.85,0.9,0.95,1.05,1.1,1.15,1.25,1.3,1.35,1.45,1.5,1.55],"tickSize":-3.5,"labels":false,"title":null}},"y2":{"field":"hi"}}},
{"data":{"name":"ref"},"mark":{"type":"rule","color":"#888888","strokeDash":[8,5],"strokeWidth":1.8},"encoding":{"x":{"field":"t","type":"quantitative","axis":null}}},
{"data":{"name":"one"},"mark":{"type":"rule","color":"black","strokeDash":[10,4],"strokeWidth":2.5},"encoding":{"y":{"field":"v","type":"quantitative","axis":null}}},
{"data":{"name":"lab"},"transform":[{"filter":"datum.p==11"}],"mark":{"type":"text","align":"left","baseline":"middle","fontSize":17},"encoding":{"x":{"datum":0.05,"type":"quantitative","axis":null},"y":{"datum":1.49,"type":"quantitative","axis":null},"text":{"field":"rng"}}},
{"data":{"name":"lab"},"transform":[{"filter":"datum.p==11"}],"mark":{"type":"text","align":"right","baseline":"middle","fontSize":17},"encoding":{"x":{"datum":0.93,"type":"quantitative","axis":null},"y":{"datum":1.49,"type":"quantitative","axis":null},"text":{"field":"n"}}},
{"data":{"name":"lab"},"transform":[{"filter":"datum.p==11"}],"mark":{"type":"text","align":"left","baseline":"middle","fontSize":17},"encoding":{"x":{"datum":0.05,"type":"quantitative","axis":null},"y":{"datum":0.71,"type":"quantitative","axis":null},"text":{"field":"m"}}}
],"resolve":{"axis":{"x":"independent","y":"independent"}}},
{"width":362,"height":235,"layer":[
{"data":{"name":"obs"},"transform":[{"filter":"datum.p==12"}],"mark":{"type":"errorbar","orient":"vertical","ticks":true,"size":10,"thickness":1.6,"color":"#0C5DA5","clip":true},"encoding":{"x":{"field":"t","type":"quantitative","scale":{"domain":[0,0.98],"nice":false,"zero":false},"axis":{"orient":"bottom","values":[0,0.2,0.4,0.6,0.8],"format":".1f","tickSize":-7,"labelPadding":18,"labels":true,"title":null}},"y":{"field":"v","type":"quantitative","scale":{"domain":[0.621,1.571],"nice":false,"zero":false},"axis":{"orient":"left","values":[0.8,1,1.2,1.4],"format":".1f","tickSize":-7,"labelPadding":16,"labels":false,"title":null}},"yError":{"field":"e"}}},
{"data":{"name":"obs"},"transform":[{"filter":"datum.p==12"}],"mark":{"type":"line","color":"#0C5DA5","strokeWidth":3,"clip":true,"point":{"filled":true,"size":42}},"encoding":{"x":{"field":"t","type":"quantitative","axis":{"orient":"bottom","values":[0.05,0.1,0.15,0.25,0.3,0.35,0.45,0.5,0.55,0.65,0.7,0.75,0.85,0.9,0.95],"tickSize":-3.5,"labels":false,"title":null}},"y":{"field":"v","type":"quantitative","axis":{"orient":"left","values":[0.65,0.7,0.75,0.85,0.9,0.95,1.05,1.1,1.15,1.25,1.3,1.35,1.45,1.5,1.55],"tickSize":-3.5,"labels":false,"title":null}}}},
{"data":{"name":"gray"},"transform":[{"filter":"datum.g=='B'"}],"mark":{"type":"area","color":"#808080","opacity":0.5,"clip":true},"encoding":{"x":{"field":"t","type":"quantitative","axis":{"orient":"top","values":[0,0.2,0.4,0.6,0.8],"tickSize":-7,"labels":false,"title":null}},"y":{"field":"lo","type":"quantitative","axis":{"orient":"right","values":[0.8,1,1.2,1.4],"tickSize":-7,"labels":false,"title":null}},"y2":{"field":"hi"}}},
{"data":{"name":"purple"},"transform":[{"filter":"datum.g=='B'"}],"mark":{"type":"area","color":"#845B97","opacity":0.4,"clip":true},"encoding":{"x":{"field":"t","type":"quantitative","axis":{"orient":"top","values":[0.05,0.1,0.15,0.25,0.3,0.35,0.45,0.5,0.55,0.65,0.7,0.75,0.85,0.9,0.95],"tickSize":-3.5,"labels":false,"title":null}},"y":{"field":"lo","type":"quantitative","axis":{"orient":"right","values":[0.65,0.7,0.75,0.85,0.9,0.95,1.05,1.1,1.15,1.25,1.3,1.35,1.45,1.5,1.55],"tickSize":-3.5,"labels":false,"title":null}},"y2":{"field":"hi"}}},
{"data":{"name":"ref"},"mark":{"type":"rule","color":"#888888","strokeDash":[8,5],"strokeWidth":1.8},"encoding":{"x":{"field":"t","type":"quantitative","axis":null}}},
{"data":{"name":"one"},"mark":{"type":"rule","color":"black","strokeDash":[10,4],"strokeWidth":2.5},"encoding":{"y":{"field":"v","type":"quantitative","axis":null}}},
{"data":{"name":"lab"},"transform":[{"filter":"datum.p==12"}],"mark":{"type":"text","align":"left","baseline":"middle","fontSize":17},"encoding":{"x":{"datum":0.05,"type":"quantitative","axis":null},"y":{"datum":1.49,"type":"quantitative","axis":null},"text":{"field":"rng"}}},
{"data":{"name":"lab"},"transform":[{"filter":"datum.p==12"}],"mark":{"type":"text","align":"right","baseline":"middle","fontSize":17},"encoding":{"x":{"datum":0.93,"type":"quantitative","axis":null},"y":{"datum":1.49,"type":"quantitative","axis":null},"text":{"field":"n"}}},
{"data":{"name":"lab"},"transform":[{"filter":"datum.p==12"}],"mark":{"type":"text","align":"left","baseline":"middle","fontSize":17},"encoding":{"x":{"datum":0.05,"type":"quantitative","axis":null},"y":{"datum":0.71,"type":"quantitative","axis":null},"text":{"field":"m"}}}
],"resolve":{"axis":{"x":"independent","y":"independent"}}}
],
"config": {
"font": "DejaVu Serif",
"view": {"stroke": "black", "strokeWidth": 1.2},
"axis": {"domain": false, "grid": false, "tickColor": "black", "tickWidth": 1, "labelFont": "DejaVu Serif", "labelFontSize": 17, "labelColor": "black", "titleFont": "DejaVu Serif", "titleFontSize": 21, "titleFontWeight": "normal", "titleColor": "black", "labelFlush": false, "labelOverlap": false, "minExtent": 0},
"text": {"font": "DejaVu Serif", "color": "black"}
}
}
